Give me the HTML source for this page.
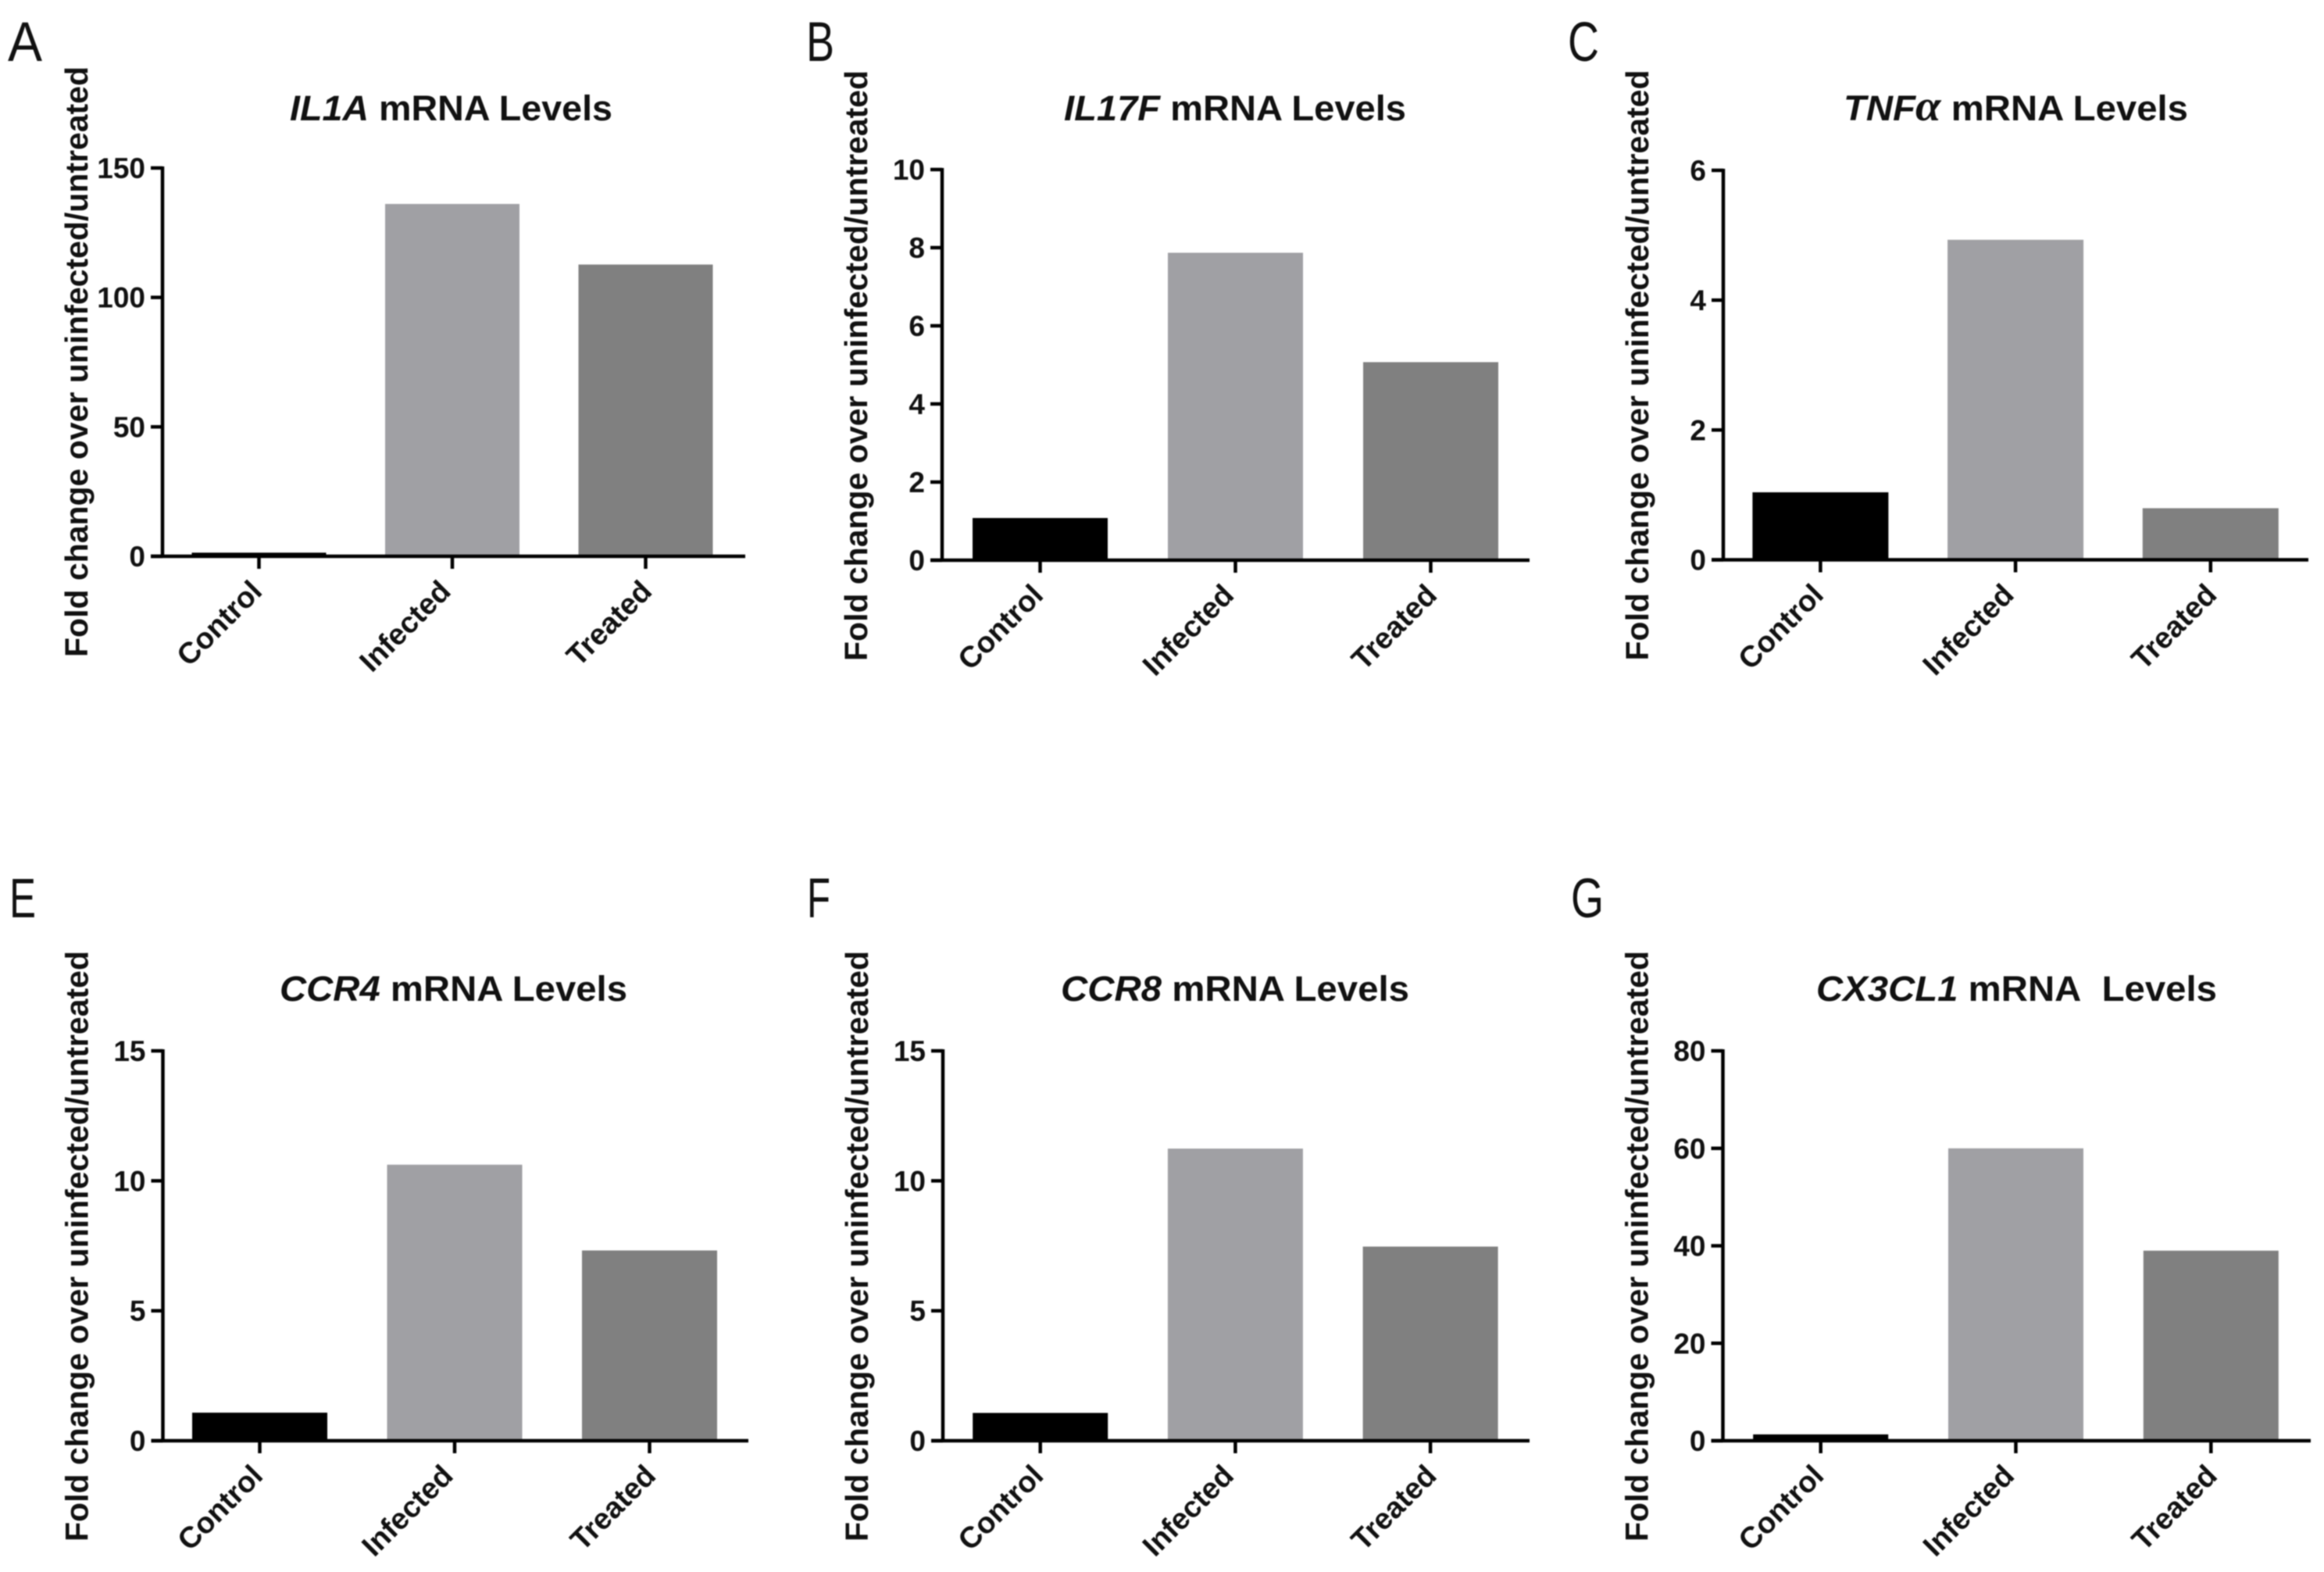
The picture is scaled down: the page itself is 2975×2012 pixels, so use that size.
<!DOCTYPE html>
<html lang="en">
<head>
<meta charset="utf-8">
<title>mRNA Levels Panels</title>
<style>
html,body{margin:0;padding:0;background:#fff;}
svg{display:block;filter:blur(0.9px);}
text{font-family:"Liberation Sans",sans-serif;fill:#111;}
</style>
</head>
<body>
<svg id="figure" xmlns="http://www.w3.org/2000/svg" width="2975" height="2012" viewBox="0 0 2975 2012"></svg>
<script>
const categories = ['Control', 'Infected', 'Treated'];
const yAxisTitle = 'Fold change over uninfected/untreated';

const il1aValues = [1.4, 136.1, 112.7];
const il1aTicks = [0, 50, 100, 150];
const il17fValues = [1.08, 7.87, 5.07];
const il17fTicks = [0, 2, 4, 6, 8, 10];
const tnfaValues = [1.04, 4.93, 0.795];
const tnfaTicks = [0, 2, 4, 6];
const ccr4Values = [1.08, 10.62, 7.32];
const ccr4Ticks = [0, 5, 10, 15];
const ccr8Values = [1.07, 11.24, 7.47];
const ccr8Ticks = [0, 5, 10, 15];
const cx3cl1Values = [1.3, 60, 39];
const cx3cl1Ticks = [0, 20, 40, 60, 80];

const barColors = ['#000000', '#a0a0a4', '#808080'];

const panels = [
  {id:'a', letter:'A', letterX:10,  letterW:44, letterY:78,  gene:'IL1A',   rest:' mRNA Levels', titleX:371,  titleW:413, titleY:154,  values:il1aValues,   ticks:il1aTicks,   axisX:208,  top:215,  zero:712,  endX:954,  first:331.5, step:247.5, barW:172},
  {id:'b', letter:'B', letterX:1032,letterW:36, letterY:78,  gene:'IL17F',  rest:' mRNA Levels', titleX:1362, titleW:438, titleY:154,  values:il17fValues,  ticks:il17fTicks,  axisX:1206, top:217,  zero:717,  endX:1958, first:1331.5,step:250,   barW:173},
  {id:'c', letter:'C', letterX:2007,letterW:40, letterY:78,  gene:'TNF',    rest:' mRNA Levels', titleX:2360, titleW:441, titleY:154,  values:tnfaValues,   ticks:tnfaTicks,   axisX:2206, top:218,  zero:716.5,endX:2955,first:2330.4,step:249.7, barW:174, greek:'\u03b1'},
  {id:'e', letter:'E', letterX:12,  letterW:34, letterY:1174,gene:'CCR4',   rest:' mRNA Levels', titleX:358,  titleW:445, titleY:1281, values:ccr4Values,   ticks:ccr4Ticks,   axisX:208.5,top:1345, zero:1844, endX:958,  first:332.5, step:249.5, barW:173},
  {id:'f', letter:'F', letterX:1033,letterW:30, letterY:1174,gene:'CCR8',   rest:' mRNA Levels', titleX:1358, titleW:446, titleY:1281, values:ccr8Values,   ticks:ccr8Ticks,   axisX:1207, top:1345, zero:1844, endX:1958, first:1331.7,step:249.7, barW:173},
  {id:'g', letter:'G', letterX:2011,letterW:42, letterY:1174,gene:'CX3CL1', rest:' mRNA\u00a0 Levels', titleX:2325, titleW:513, titleY:1281, values:cx3cl1Values, ticks:cx3cl1Ticks, axisX:2205.5,top:1345, zero:1844, endX:2958, first:2330.7,step:249.8, barW:173}
];

const labelShifts = [-2, -8, 2];

const svg = document.getElementById('figure');
const NS = 'http://www.w3.org/2000/svg';

function make(parent, tag, attrs, text) {
  const el = document.createElementNS(NS, tag);
  for (const k in attrs) el.setAttribute(k, attrs[k]);
  if (text !== undefined) el.textContent = text;
  parent.appendChild(el);
  return el;
}

function yScale(p) {
  const maxTick = p.ticks[p.ticks.length - 1];
  return function (v) { return p.zero - (v / maxTick) * (p.zero - p.top); };
}
function xScale(p) {
  return function (i) { return p.first + i * p.step; };
}

panels.forEach(function (p) {
  const y = yScale(p);
  const x = xScale(p);

  const g = make(svg, 'g', {});
  
  

  const letter = make(g, 'text', {x: p.letterX, y: p.letterY, 'font-size': 71, textLength: p.letterW, lengthAdjust: 'spacingAndGlyphs'}, p.letter);
  
  

  const title = make(g, 'text', {x: p.titleX, y: p.titleY, 'font-size': 45, 'font-weight': 'bold', textLength: p.titleW, lengthAdjust: 'spacingAndGlyphs'});
  
  
  make(title, 'tspan', {'font-style': 'italic'}, p.gene);
  if (p.greek) make(title, 'tspan', {'font-style': 'italic', 'font-family': '"Liberation Serif",serif', 'font-weight': 'bold', 'font-size': 56}, p.greek);
  make(title, 'tspan', {}, p.rest);

  const yt = make(g, 'text', {
    x: 0, y: 0, 'font-size': 41, 'font-weight': 'bold', 'text-anchor': 'middle',
    textLength: 756, lengthAdjust: 'spacingAndGlyphs',
    transform: 'translate(' + (p.axisX - 96) + ',' + (p.zero - 249) + ') rotate(-90)'
  }, yAxisTitle);
  
  

  p.values.forEach(function (v, i) {
    const bar = make(g, 'rect', {
      x: x(i) - p.barW / 2, y: y(v), width: p.barW, height: p.zero - y(v), fill: barColors[i]
    });
    
    
  });

  const yAxis = make(g, 'line', {x1: p.axisX, x2: p.axisX, y1: p.top - 2, y2: p.zero + 2, stroke: '#000', 'stroke-width': 4.5});
  
  

  const xAxis = make(g, 'line', {x1: p.axisX - 15, x2: p.endX, y1: p.zero, y2: p.zero, stroke: '#000', 'stroke-width': 4.5});
  
  

  p.ticks.forEach(function (t) {
    const tick = make(g, 'line', {x1: p.axisX - 15, x2: p.axisX, y1: y(t), y2: y(t), stroke: '#000', 'stroke-width': 4.5});
    
    
    const label = make(g, 'text', {x: p.axisX - 22, y: y(t) + 13, 'font-size': 37, 'font-weight': 'bold', 'text-anchor': 'end'}, t);
    
    
  });

  categories.forEach(function (c, i) {
    const tick = make(g, 'line', {x1: x(i), x2: x(i), y1: p.zero, y2: p.zero + 16, stroke: '#000', 'stroke-width': 4.5});
    
    
    const label = make(g, 'text', {
      x: 0, y: 0, 'font-size': 38, 'font-weight': 'bold', 'text-anchor': 'end',
      transform: 'translate(' + (x(i) + 8 + labelShifts[i]) + ',' + (p.zero + 47) + ') rotate(-45)'
    }, c);
    
    
  });
});
</script>
</body>
</html>
